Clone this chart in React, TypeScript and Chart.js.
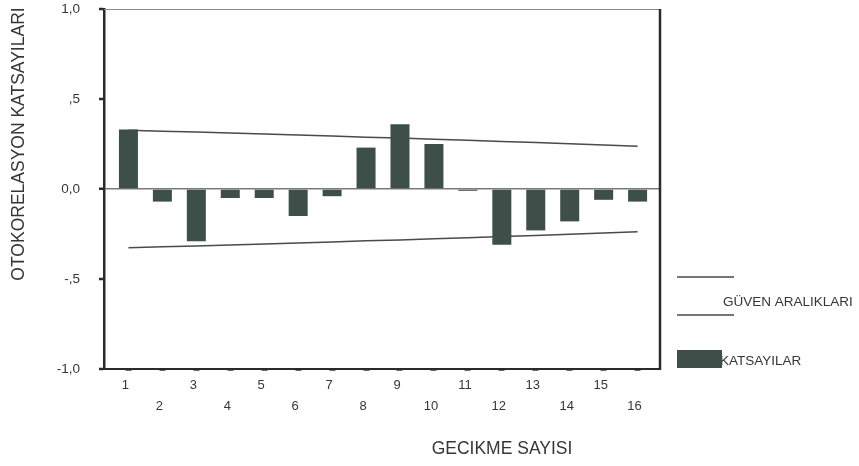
import React, { useEffect, useRef } from "react";
import { Chart, registerables } from "chart.js";

Chart.register(...registerables);

// Lag numbers shown on the horizontal axis
const lags = [1, 2, 3, 4, 5, 6, 7, 8, 9, 10, 11, 12, 13, 14, 15, 16];
const lagLabels = ["1", "2", "3", "4", "5", "6", "7", "8", "9", "10", "11", "12", "13", "14", "15", "16"];

// Autocorrelation coefficient for each lag
const acfValues = [0.33, -0.07, -0.29, -0.05, -0.05, -0.15, -0.04, 0.23, 0.36, 0.25, -0.01, -0.31, -0.23, -0.18, -0.06, -0.07];

// Upper and lower confidence limits per lag
const upperLimits = [0.326, 0.321, 0.316, 0.311, 0.305, 0.3, 0.294, 0.288, 0.283, 0.277, 0.271, 0.264, 0.258, 0.251, 0.245, 0.238];
const lowerLimits = [-0.326, -0.321, -0.316, -0.311, -0.305, -0.3, -0.294, -0.288, -0.283, -0.277, -0.271, -0.264, -0.258, -0.251, -0.245, -0.238];

// Vertical axis ticks and their printed labels
const yTickValues = [-1, -0.5, 0, 0.5, 1];
const yTickLabels = ["-1,0", "-,5", "0,0", ",5", "1,0"];

const yAxisTitle = "OTOKORELASYON KATSAYILARI";
const xAxisTitle = "GECIKME SAYISI";
const limitsLegend = "GÜVEN ARALIKLARI";
const barsLegend = "KATSAYILAR";

const FONT = "'Liberation Sans', Arial, sans-serif";
const TEXT = "#363636";
const BAR = "#3e4f4a";
const LIMIT = "#4a4a4a";

// Frame, axis titles and the side legend
const decorations = {
  id: "decorations",
  afterDraw(chart: any) {
    const { ctx, chartArea } = chart;
    const { left, right, top, bottom } = chartArea;
    ctx.save();

    // top edge of the frame
    ctx.strokeStyle = "#8a8a8a";
    ctx.lineWidth = 1.2;
    ctx.beginPath();
    ctx.moveTo(left, top + 0.5);
    ctx.lineTo(right, top + 0.5);
    ctx.stroke();

    // right edge of the frame
    ctx.strokeStyle = "#2a2a2a";
    ctx.lineWidth = 2.5;
    ctx.beginPath();
    ctx.moveTo(right, top);
    ctx.lineTo(right, bottom + 1);
    ctx.stroke();

    // axis titles
    ctx.fillStyle = TEXT;
    ctx.font = `17.5px ${FONT}`;
    ctx.textAlign = "center";
    ctx.textBaseline = "middle";
    ctx.fillText(xAxisTitle, 502, 449);
    ctx.save();
    ctx.translate(19, 144);
    ctx.rotate(-Math.PI / 2);
    ctx.fillText(yAxisTitle, 0, 0);
    ctx.restore();

    // legend: confidence limits
    ctx.strokeStyle = LIMIT;
    ctx.lineWidth = 1.5;
    ctx.beginPath();
    ctx.moveTo(677, 277);
    ctx.lineTo(734, 277);
    ctx.moveTo(677, 315);
    ctx.lineTo(734, 315);
    ctx.stroke();

    ctx.font = `13.5px ${FONT}`;
    ctx.textAlign = "left";
    ctx.fillStyle = TEXT;
    ctx.fillText(limitsLegend, 723, 302);

    // legend: coefficients (swatch laid over the start of the word)
    ctx.fillText(barsLegend, 720, 361);
    ctx.fillStyle = BAR;
    ctx.fillRect(677, 350, 45, 18);

    ctx.restore();
  },
};

export default function App() {
  const canvasRef = useRef<HTMLCanvasElement | null>(null);

  useEffect(() => {
    const canvas = canvasRef.current;
    if (!canvas) return;

    const chart = new Chart(canvas, {
      type: "bar",
      data: {
        datasets: [
          {
            type: "bar",
            label: barsLegend,
            data: lags.map((x, i) => ({ x, y: acfValues[i] })),
            backgroundColor: BAR,
            borderWidth: 0,
            barPercentage: 0.56,
            categoryPercentage: 1,
            order: 1,
          } as any,
          {
            type: "line",
            label: limitsLegend,
            data: lags.map((x, i) => ({ x, y: upperLimits[i] })),
            borderColor: LIMIT,
            borderWidth: 1.5,
            pointRadius: 0,
            tension: 0,
            fill: false,
            order: 2,
          } as any,
          {
            type: "line",
            label: limitsLegend,
            data: lags.map((x, i) => ({ x, y: lowerLimits[i] })),
            borderColor: LIMIT,
            borderWidth: 1.5,
            pointRadius: 0,
            tension: 0,
            fill: false,
            order: 2,
          } as any,
        ],
      },
      options: {
        responsive: false,
        animation: false,
        layout: { padding: { top: 9, right: 199, bottom: 0, left: 0 } },
        plugins: {
          legend: { display: false },
          tooltip: { enabled: false },
        },
        scales: {
          x: {
            type: "linear",
            offset: false,
            min: 0.28,
            max: 16.66,
            afterBuildTicks: (s: any) => {
              s.ticks = lags.map((v) => ({ value: v }));
            },
            afterFit: (s: any) => {
              s.height = 97;
              s.paddingLeft = 0;
              s.paddingRight = 0;
            },
            ticks: {
              autoSkip: false,
              maxRotation: 0,
              minRotation: 0,
              labelOffset: -3,
              padding: 4,
              color: TEXT,
              font: { family: FONT, size: 13, lineHeight: 1.62 },
              callback: (value: any) => {
                const i = lags.indexOf(Number(value));
                if (i < 0) return "";
                return i % 2 === 0 ? [lagLabels[i], ""] : ["", lagLabels[i]];
              },
            },
            grid: {
              offset: false,
              drawOnChartArea: false,
              drawTicks: true,
              tickLength: 2,
              tickWidth: 6,
              tickColor: "#6a6a6a",
            },
            border: { display: true, color: "#2a2a2a", width: 2 },
          },
          y: {
            type: "linear",
            min: -1,
            max: 1,
            afterBuildTicks: (s: any) => {
              s.ticks = yTickValues.map((v) => ({ value: v }));
            },
            afterFit: (s: any) => {
              s.width = 104;
              s.paddingTop = 0;
              s.paddingBottom = 0;
            },
            ticks: {
              padding: 19,
              color: TEXT,
              font: { family: FONT, size: 13.5 },
              callback: (value: any) => {
                const i = yTickValues.indexOf(Number(value));
                return i < 0 ? "" : yTickLabels[i];
              },
            },
            grid: {
              drawOnChartArea: true,
              drawTicks: true,
              tickLength: 5,
              tickWidth: 2.5,
              tickColor: "#2a2a2a",
              color: (c: any) => (c.tick && c.tick.value === 0 ? "#7a7a7a" : "rgba(0,0,0,0)"),
              lineWidth: (c: any) => (c.tick && c.tick.value === 0 ? 1.5 : 0),
            },
            border: { display: true, color: "#2a2a2a", width: 2.5 },
          },
        },
      },
      plugins: [decorations],
    });

    return () => {
      chart.destroy();
    };
  }, []);

  return (
    <canvas
      ref={canvasRef}
      width={859}
      height={466}
      style={{ position: "fixed", left: 0, top: 0, display: "block", background: "#ffffff" }}
    />
  );
}
